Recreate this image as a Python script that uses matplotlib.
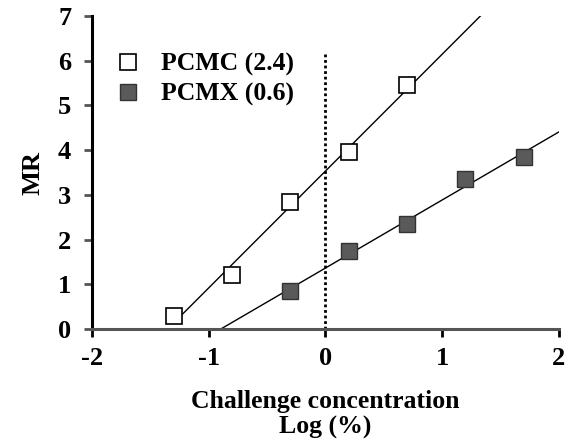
import numpy as np
import matplotlib
matplotlib.use("Agg")
import matplotlib.pyplot as plt

# data
pcmc_x = [-1.3, -0.8, -0.3, 0.2, 0.7]
pcmc_y = [0.3, 1.2, 2.85, 3.95, 5.45]
pcmx_x = [-0.3, 0.2, 0.7, 1.2, 1.7]
pcmx_y = [0.85, 1.75, 2.35, 3.35, 3.85]
labels = ["PCMC (2.4)", "PCMX (0.6)"]

plt.rcParams['font.family'] = ['Liberation Serif', 'DejaVu Serif']
plt.rcParams['font.weight'] = 'bold'
plt.rcParams['axes.unicode_minus'] = False

fig = plt.figure(figsize=(5.65, 4.43), dpi=100)
ax = fig.add_axes([0.163, 0.257, 0.826, 0.707])

# regression lines
a1, b1 = np.polyfit(pcmc_x, pcmc_y, 1)
xs1 = np.array([-1.25, (7 - b1) / a1])
ax.plot(xs1, a1 * xs1 + b1, color='black', lw=1, zorder=2)
a2, b2 = np.polyfit(pcmx_x, pcmx_y, 1)
xs2 = np.array([-b2 / a2, 2])
ax.plot(xs2, a2 * xs2 + b2, color='black', lw=1, zorder=2)

ax.plot(pcmc_x, pcmc_y, 's', ms=11, mfc='white', mec='black', mew=1.2,
        ls='none', label=labels[0], zorder=3)
ax.plot(pcmx_x, pcmx_y, 's', ms=11, mfc='#5a5a5a', mec='#333333', mew=1.0,
        ls='none', label=labels[1], zorder=3)

ax.plot([0, 0], [0, 6.15], color='black', lw=2, ls=(0, (1, 1)), zorder=1)

ax.set_xlim(-2, 2)
ax.set_ylim(0, 7)
ax.set_xticks([-2, -1, 0, 1, 2])
ax.set_yticks(range(8))
for s in ['top', 'right']:
    ax.spines[s].set_visible(False)
ax.spines['left'].set_linewidth(2.2)
ax.spines['bottom'].set_linewidth(2.2)
ax.spines['bottom'].set_color('#555555')
ax.tick_params(axis='both', direction='out', length=6, width=2, labelsize=19,
               pad=7)
ax.tick_params(axis='y', colors='#555555', labelcolor='black', pad=9)

ax.set_ylabel("MR", fontsize=19, fontweight='bold', labelpad=10)
ax.set_xlabel("Challenge concentration\nLog (%)", fontsize=18.5,
              fontweight='bold', labelpad=14, linespacing=1.15)

ax.legend(loc='upper left', bbox_to_anchor=(0.01, 0.915), frameon=False,
          handletextpad=0.5, labelspacing=0.25, handlelength=1.6,
          borderaxespad=0, prop={'weight': 'bold', 'size': 18.5})

fig.savefig("out.png", dpi=100)
